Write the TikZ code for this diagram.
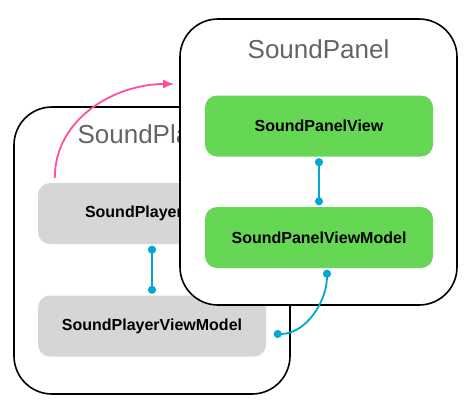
\documentclass[tikz,border=0pt]{standalone}
\usepackage{fontspec}
\setmainfont{Liberation Sans}
\usetikzlibrary{arrows.meta}
\definecolor{panelgreen}{HTML}{66D655}
\definecolor{boxgray}{HTML}{D6D6D6}
\definecolor{linkcyan}{HTML}{00A8D2}
\definecolor{flowpink}{HTML}{FF4F9F}
\definecolor{titlegray}{HTML}{646464}
\tikzset{
  container/.style={draw,line width=1.6pt,fill=white,rounded corners=38pt},
  ctitle/.style={text=titlegray,font=\fontsize{26}{29}\selectfont},
  viewbox/.style={rounded corners=12pt,minimum width=228pt,minimum height=61pt,
    font=\bfseries\fontsize{16}{19}\selectfont},
  link/.style={linkcyan,line width=1.8pt,
    {Circle[length=8pt]}-{Circle[length=8pt]},shorten <=1.5pt,shorten >=1.5pt}
}
\begin{document}
\begin{tikzpicture}[x=1pt,y=-1pt]
  \useasboundingbox (0,0) rectangle (470,402);
  \node[container,minimum width=276pt,minimum height=287pt] (player) at (152,250.5) {};
  \node[ctitle] (playertitle) at ([yshift=-31pt]player.north) {SoundPlayer};
  \node[viewbox,fill=boxgray] (playerview) at (152,213.5) {SoundPlayerView};
  \node[viewbox,fill=boxgray] (playervm) at (152,326) {SoundPlayerViewModel};
  \draw[link] (playerview) -- (playervm);
  \node[container,minimum width=277pt,minimum height=286pt] (panel) at (318.5,162) {};
  \node[ctitle] (paneltitle) at ([yshift=-31pt]panel.north) {SoundPanel};
  \node[viewbox,fill=panelgreen] (panelview) at (319,126) {SoundPanelView};
  \node[viewbox,fill=panelgreen] (panelvm) at (319,237.5) {SoundPanelViewModel};
  \draw[link] (panelview) -- (panelvm);
  \draw[link] ([xshift=8pt]panelvm.south) to[out=-90,in=0]
    ([xshift=6pt,yshift=-8pt]playervm.east);
  \coordinate (flowend) at ([xshift=-5pt,yshift=78pt]panel.west);
  \draw[flowpink,line width=1.8pt,-{Latex[length=11pt,width=9pt]}]
    ([xshift=17pt,yshift=5pt]playerview.north west) to[out=90,in=180] (flowend);
\end{tikzpicture}
\end{document}
